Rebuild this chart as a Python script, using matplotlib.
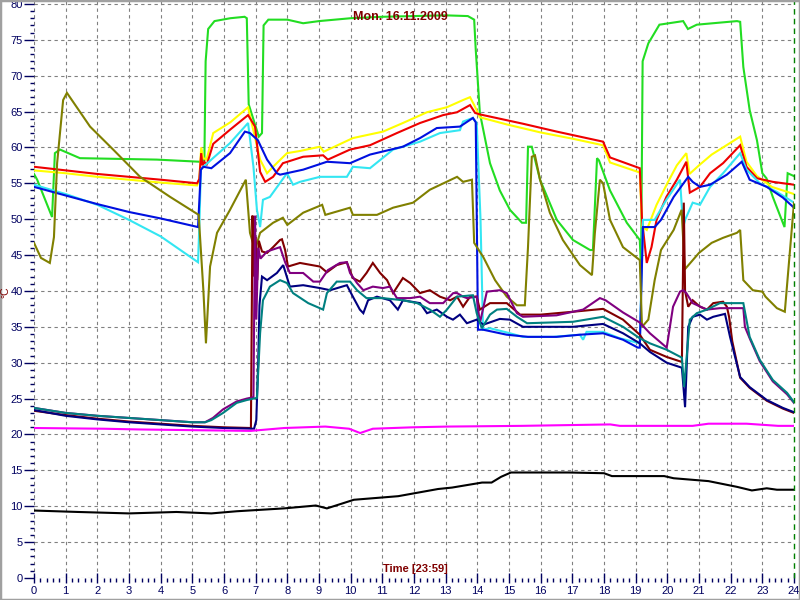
import matplotlib
matplotlib.use("Agg")
import matplotlib.pyplot as plt
from matplotlib.patches import Rectangle
from matplotlib.ticker import MultipleLocator

plt.rcParams["font.family"] = ["Liberation Sans", "DejaVu Sans"]

# time in hours, temperature in °C
green_t = [0, 0.1, 0.57, 0.66, 0.82, 1.45, 3.88, 5.24, 5.38, 5.42, 5.5, 5.7, 6.2, 6.65, 6.72, 6.78,
           7.1, 7.2, 7.25, 7.4, 8.0, 8.5, 9.0, 10.0, 11.0, 12.0, 13.0, 13.7, 13.9, 13.95, 14.08, 14.4,
           14.71, 15.03, 15.41, 15.54, 15.6, 15.72, 15.98, 16.51, 17.02, 17.56, 17.65, 17.78, 17.84,
           18.19, 18.72, 19.13, 19.17, 19.22, 19.4, 19.75, 20.5, 20.65, 20.93, 22.2, 22.3, 22.4, 22.6,
           22.83, 23.0, 23.13, 23.33, 23.7, 23.8, 24.0]
green_v = [56.3, 55.5, 50.3, 59.2, 59.7, 58.5, 58.3, 58.0, 58.2, 72.0, 76.5, 77.6, 78.0, 78.2, 78.0, 66.0,
           61.5, 62.0, 77.0, 77.8, 77.8, 77.3, 77.6, 78.0, 78.2, 78.3, 78.4, 78.3, 77.8, 73.6, 64.8, 57.8,
           54.0, 51.3, 49.5, 49.5, 60.1, 60.1, 55.5, 49.9, 47.1, 45.7, 45.7, 58.5, 58.2,
           54.0, 49.5, 47.1, 43.0, 72.0, 74.5, 77.1, 77.6, 76.5, 77.1, 77.6, 77.5, 71.2, 65.2,
           61.0, 56.4, 55.7, 53.1, 48.9, 56.4, 56.0]

yellow_t = [0, 1, 2, 3, 4, 5.15, 5.22, 5.28, 5.35, 5.45, 5.66, 6.2, 6.76, 6.9, 7.14, 7.36, 7.55, 7.99,
            8.4, 9.03, 9.15, 10.07, 11.02, 11.65, 12.41, 13.04, 13.55, 13.77, 13.9, 14.08, 14.93, 15.98,
            17.02, 17.97, 18.19, 19.13, 19.2, 19.35, 19.66, 20.0, 20.3, 20.6, 20.7, 21.0, 21.4, 22.3,
            22.5, 22.83, 23.3, 24.0]
yellow_v = [56.8, 56.4, 55.9, 55.5, 55.1, 54.7, 55.5, 60.0, 58.5, 58.3, 62.0, 63.5, 65.6, 62.9, 58.3, 56.4,
            57.3, 59.2, 59.5, 60.1, 59.4, 61.3, 62.2, 63.4, 64.9, 65.6, 66.6, 67.0, 65.9, 64.2, 63.2, 62.1,
            61.2, 60.3, 57.9, 56.5, 49.0, 48.5, 52.0, 55.0, 57.5, 59.2, 56.3, 57.5, 59.0, 61.5,
            58.0, 56.0, 54.5, 53.5]

red_t = [0, 1, 2, 3, 4, 5.15, 5.22, 5.28, 5.32, 5.38, 5.45, 5.66, 6.2, 6.76, 6.98, 7.14, 7.3, 7.55,
         7.86, 8.5, 9.13, 9.28, 9.98, 10.61, 11.46, 12.19, 12.92, 13.36, 13.77, 13.93, 14.08, 15.44,
         16.51, 17.97, 18.19, 19.13, 19.2, 19.35, 19.5, 19.66, 19.97, 20.3, 20.6, 20.71, 21.03, 21.35,
         21.76, 22.3, 22.5, 22.83, 23.33, 24.0]
red_v = [57.3, 56.8, 56.3, 55.9, 55.5, 55.0, 55.6, 59.2, 57.5, 58.0, 57.5, 60.5, 62.5, 64.5, 62.9, 56.6,
         55.2, 55.9, 57.8, 58.7, 58.9, 58.3, 59.7, 60.3, 62.0, 63.4, 64.5, 64.9, 65.9, 64.8, 64.6, 63.3,
         62.2, 60.8, 58.6, 57.1, 50.0, 43.9, 46.1, 49.9, 53.1, 55.5, 58.0, 53.7, 54.5, 56.4,
         57.8, 60.3, 57.3, 55.7, 55.2, 54.8]

cyan_t = [0, 1, 2, 3, 4, 5.18, 5.22, 5.27, 5.35, 5.6, 6.19, 6.76, 6.93, 7.04, 7.14, 7.23, 7.45, 7.99,
          8.18, 8.4, 9.03, 9.88, 10.07, 10.61, 11.34, 12.19, 12.82, 13.45, 13.55, 13.86, 13.98, 14.1,
          14.18, 14.4, 15.03, 15.44, 16.4, 17.24, 17.34, 17.45, 17.97, 18.5, 19.13, 19.23, 19.35, 19.6,
          19.97, 20.4, 20.5, 20.57, 20.8, 21.03, 21.35, 21.76, 22.3, 22.5, 22.92, 23.46, 24.0]
cyan_v = [54.8, 53.5, 52.0, 49.9, 47.6, 44.0, 48.9, 56.9, 57.3, 58.3, 60.6, 63.4, 57.3, 51.3, 48.9, 52.7,
          53.1, 56.4, 54.8, 55.2, 55.9, 55.9, 57.3, 57.1, 59.7, 60.8, 62.0, 62.4, 63.6, 64.1, 63.4, 50.0,
          34.6, 34.8, 34.1, 33.6, 33.6, 33.9, 33.2, 34.3, 34.3, 33.4, 32.7, 49.9, 49.9, 49.9,
          52.7, 55.5, 48.9, 50.0, 52.3, 52.0, 54.5, 56.4, 59.2, 56.9, 55.0, 53.8, 52.3]

blue_t = [0, 1, 2, 3, 4, 5.18, 5.27, 5.35, 5.6, 6.19, 6.66, 6.82, 7.07, 7.36, 7.67, 7.77, 8.5, 9.25,
          9.98, 10.61, 11.65, 12.19, 12.72, 13.45, 13.86, 13.95, 14.02, 14.18, 14.93, 15.6, 16.5, 17.24,
          17.97, 18.6, 19.07, 19.13, 19.23, 19.6, 19.8, 20.2, 20.66, 20.8, 21.03, 21.35, 21.88, 22.35,
          22.6, 23.14, 23.65, 24.0]
blue_v = [54.5, 53.3, 52.1, 51.0, 50.1, 48.9, 56.9, 57.3, 57.1, 59.2, 62.2, 62.0, 61.0, 58.3, 56.4, 56.2,
          56.9, 58.0, 57.8, 59.0, 60.1, 61.3, 62.7, 62.9, 64.1, 63.5, 34.6, 34.6, 33.9, 33.6, 33.6, 33.9,
          34.1, 33.2, 32.1, 32.1, 48.9, 48.9, 49.9, 53.1, 55.9, 55.2, 54.5, 54.8, 56.2, 58.0,
          55.5, 54.5, 53.0, 51.6]

olive_t = [0, 0.22, 0.5, 0.63, 0.73, 0.92, 1.04, 1.77, 2.5, 3.35, 4.3, 5.2, 5.35, 5.43, 5.56, 5.78,
           6.19, 6.69, 6.82, 6.98, 7.14, 7.55, 7.86, 8.0, 8.5, 9.1, 9.2, 9.98, 10.07, 10.83, 11.34,
           11.97, 12.5, 13.36, 13.55, 13.83, 13.9, 14.19, 14.56, 14.93, 15.25, 15.5, 15.6, 15.72,
           15.82, 15.98, 16.29, 16.7, 17.24, 17.62, 17.71, 17.87, 17.97, 18.19, 18.6, 19.13, 19.2,
           19.4, 19.6, 19.8, 20.2, 20.45, 20.55, 21.0, 21.4, 21.76, 22.2, 22.3, 22.4, 22.7, 23.0,
           23.1, 23.46, 23.71, 24.0]
olive_v = [46.7, 44.6, 43.9, 47.5, 57.8, 66.6, 67.6, 62.9, 59.7, 55.9, 53.1, 50.6, 40.0, 32.7, 43.4, 48.1,
           51.3, 55.5, 48.1, 45.7, 48.1, 49.5, 50.2, 49.2, 50.9, 52.0, 50.6, 51.6, 50.6, 50.6, 51.6,
           52.3, 54.1, 55.9, 55.2, 55.5, 46.7, 44.7, 41.5, 39.2, 38.0, 38.0, 46.1, 58.7,
           58.9, 55.5, 50.9, 47.1, 43.6, 42.2, 48.0, 55.5, 55.0, 49.9, 46.1, 44.3, 35.0,
           36.0, 41.5, 45.7, 48.5, 51.3, 43.0, 45.3, 46.7, 47.4, 48.1, 48.5, 41.5, 40.1, 39.9,
           39.2, 37.6, 37.1, 52.3]

maroon_t = [0, 1, 2, 3, 4, 5, 6, 6.85, 6.9, 6.95, 7.0, 7.05, 7.1, 7.2, 7.36, 7.55, 7.77, 7.83, 7.93,
            8.02, 8.4, 9.03, 9.25, 9.56, 9.88, 10.07, 10.29, 10.5, 10.7, 10.93, 11.15, 11.34, 11.65,
            11.88, 12.19, 12.5, 12.82, 13.14, 13.36, 13.55, 13.77, 13.98, 14.08, 14.4, 14.93, 15.35,
            16.0, 17.02, 17.97, 18.6, 19.13, 19.45, 19.98, 20.46, 20.52, 20.56, 20.66, 20.8, 21.03,
            21.25, 21.45, 21.76, 21.88, 21.95, 22.05, 22.3, 22.6, 23.14, 23.65, 24.0]
maroon_v = [23.3, 22.7, 22.2, 21.8, 21.5, 21.2, 21.0, 20.9, 50.5, 42.0, 47.5, 41.5, 47.0, 45.5, 45.3, 46.1,
            47.1, 47.2, 45.7, 43.4, 43.9, 43.4, 42.6, 43.6, 44.0, 41.8, 41.3, 42.5, 43.9, 42.5, 41.5,
            39.7, 41.8, 41.1, 39.7, 40.1, 39.2, 38.7, 39.2, 37.8, 39.2, 39.2, 37.4, 38.3, 38.3, 36.7,
            36.7, 37.1, 37.5, 36.0, 33.9, 31.8, 30.8, 30.1, 52.3, 40.0, 37.8, 38.7, 37.8,
            37.4, 38.3, 38.5, 37.8, 36.4, 33.0, 27.9, 26.5, 24.7, 23.6, 23.0]

purple_t = [0, 1, 2, 3, 4, 5, 5.4, 5.65, 5.97, 6.4, 6.72, 6.93, 6.98, 7.02, 7.08, 7.15, 7.36, 7.77,
            7.93, 8.08, 8.5, 8.82, 9.03, 9.28, 9.66, 9.88, 9.98, 10.2, 10.4, 10.7, 11.02, 11.24, 11.46,
            11.88, 12.19, 12.5, 12.92, 13.24, 13.36, 13.55, 13.67, 13.98, 14.08, 14.3, 14.71, 14.93,
            15.25, 15.44, 16.5, 17.02, 17.34, 17.87, 18.05, 18.6, 19.13, 19.45, 19.98, 20.18, 20.4,
            20.5, 20.6, 20.8, 21.25, 21.66, 22.4, 22.45, 22.6, 22.92, 23.33, 23.78, 24.0]
purple_v = [23.7, 23.0, 22.6, 22.3, 22.0, 21.7, 21.7, 22.3, 23.5, 24.6, 25.0, 25.2, 50.5, 36.0, 46.0, 44.5,
            45.5, 46.1, 44.0, 42.5, 42.5, 41.3, 41.3, 42.9, 43.9, 44.0, 42.5, 41.1, 40.1, 40.6, 40.4,
            40.6, 39.0, 39.0, 39.2, 38.3, 38.3, 39.7, 39.7, 39.2, 39.0, 39.2, 35.5, 39.9, 40.1, 39.7,
            36.9, 36.4, 36.6, 37.1, 37.4, 39.0, 38.7, 37.0, 35.6, 34.1, 32.1, 37.8, 39.9,
            40.1, 39.7, 38.3, 37.4, 37.6, 37.6, 35.0, 33.4, 30.2, 27.4, 25.6, 24.4]

navy_t = [0, 1, 2, 3, 4, 5, 6, 6.95, 7.02, 7.08, 7.12, 7.2, 7.36, 7.67, 7.87, 8.08, 8.5, 9.03, 9.35,
          9.88, 10.07, 10.29, 10.4, 10.55, 10.83, 11.24, 11.49, 11.65, 12.19, 12.41, 12.72, 13.04,
          13.23, 13.45, 13.67, 13.98, 14.19, 14.71, 15.03, 15.44, 17.02, 17.97, 18.6, 19.13, 19.45,
          19.98, 20.46, 20.56, 20.66, 20.8, 21.03, 21.25, 21.45, 21.82, 21.98, 22.3, 22.6, 23.14,
          23.65, 24.0]
navy_v = [23.4, 22.6, 22.1, 21.7, 21.4, 21.1, 20.9, 20.8, 22.0, 30.0, 38.0, 42.0, 41.5, 42.5, 43.6, 40.6,
          40.8, 40.4, 40.1, 40.8, 39.2, 37.4, 36.9, 38.7, 39.2, 38.7, 37.4, 38.7, 38.3, 36.9, 37.4, 36.4,
          36.0, 36.7, 35.5, 36.0, 35.3, 36.1, 36.0, 35.0, 35.0, 35.4, 34.1, 32.7, 31.5,
          30.0, 29.3, 23.8, 35.0, 36.4, 36.7, 36.0, 36.4, 36.8, 33.6, 28.0, 26.6, 24.8,
          23.7, 23.1]

teal_t = [0, 1, 2, 3, 4, 5, 5.4, 5.6, 5.97, 6.4, 6.72, 7.04, 7.14, 7.23, 7.45, 7.77, 7.99, 8.18, 8.66,
          9.13, 9.25, 9.56, 9.98, 10.2, 10.5, 11.02, 11.65, 12.1, 12.5, 12.82, 13.04, 13.36, 13.86,
          13.98, 14.14, 14.4, 14.62, 14.93, 15.25, 15.57, 17.02, 17.97, 18.6, 19.13, 19.45, 19.98,
          20.46, 20.53, 20.71, 20.93, 21.25, 21.66, 22.4, 22.6, 22.92, 23.33, 23.78, 24.0]
teal_v = [23.7, 23.0, 22.6, 22.3, 22.0, 21.7, 21.7, 22.0, 23.0, 24.4, 24.8, 25.1, 34.1, 38.7, 40.6, 41.5,
          41.1, 39.7, 38.3, 37.4, 39.7, 41.3, 41.3, 40.1, 39.0, 39.0, 38.7, 38.3, 37.4, 36.4, 37.4,
          39.2, 39.4, 36.9, 34.8, 36.7, 37.4, 37.5, 36.4, 35.5, 35.7, 36.4, 35.0, 33.4, 32.7, 31.8,
          30.7, 26.6, 36.0, 36.9, 37.4, 38.3, 38.3, 33.6, 30.4, 27.6, 25.8, 24.5]

magenta_t = [0, 2.2, 3.3, 5, 6.85, 7.9, 9.2, 9.95, 10.3, 10.7, 11.97, 13.05, 15.4, 18.2, 18.5, 20.8,
             21.3, 22.5, 23.5, 24]
magenta_v = [20.9, 20.8, 20.7, 20.6, 20.5, 20.9, 21.1, 20.8, 20.2, 20.8, 21.0, 21.1, 21.2, 21.4, 21.2,
             21.2, 21.5, 21.5, 21.2, 21.2]

black_t = [0, 1.4, 3.0, 4.5, 5.6, 6.4, 7.9, 8.9, 9.25, 10.1, 11.5, 12.76, 13.2, 14.15, 14.45, 14.75,
           15.06, 16.9, 18.0, 18.25, 19.9, 20.2, 21.3, 22.2, 22.67, 23.14, 23.46, 24]
black_v = [9.4, 9.2, 9.0, 9.2, 9.0, 9.3, 9.7, 10.1, 9.7, 10.9, 11.4, 12.4, 12.6, 13.3, 13.3, 14.1,
           14.7, 14.7, 14.6, 14.2, 14.2, 13.9, 13.5, 12.7, 12.2, 12.5, 12.3, 12.3]

series = [
    (green_t, green_v, "#22dd22"),
    (yellow_t, yellow_v, "#ffff00"),
    (red_t, red_v, "#ee0000"),
    (cyan_t, cyan_v, "#33e6f2"),
    (blue_t, blue_v, "#0010e0"),
    (olive_t, olive_v, "#808000"),
    (maroon_t, maroon_v, "#800000"),
    (purple_t, purple_v, "#800080"),
    (navy_t, navy_v, "#000080"),
    (teal_t, teal_v, "#008080"),
    (magenta_t, magenta_v, "#ff00ff"),
    (black_t, black_v, "#000000"),
]

fig = plt.figure(figsize=(8, 6), dpi=100)
ax = fig.add_axes([34 / 800, 22 / 600, 760 / 800, 577 / 600])

for t, v, c in series:
    ax.plot(t, v, color=c, lw=1.5, solid_joinstyle="miter")

# current time marker
ax.axvline(24, color="#008000", lw=1, ls=(0, (4, 3)), clip_on=False)

ax.set_xlim(0, 24)
ax.set_ylim(0, 80.4)
ax.xaxis.set_major_locator(MultipleLocator(1))
ax.xaxis.set_minor_locator(MultipleLocator(0.2))
ax.yaxis.set_minor_locator(MultipleLocator(1))
ax.set_yticks(range(0, 81, 5))

for s in ax.spines.values():
    s.set_visible(False)

ax.grid(True, which="major", color="#808080", lw=0.8, ls=(0, (3, 3)))
ax.set_axisbelow(True)

ax.tick_params(axis="both", which="major", colors="#000060", labelsize=8, width=1)
ax.tick_params(axis="y", which="major", direction="out", length=7, pad=1)
ax.tick_params(axis="y", which="minor", direction="out", length=3, width=1, color="#000060")
ax.tick_params(axis="x", which="major", direction="inout", length=7, pad=2)
ax.tick_params(axis="x", which="minor", direction="out", length=3, width=1, color="#000060")

fig.text(0.5, 1 - 17 / 600, "Mon. 16.11.2009", ha="center", va="center",
         color="#800000", fontsize=9, fontweight="bold")
fig.text(415 / 800, 1 - 569 / 600, "Time [23:59]", ha="center", va="center",
         color="#800000", fontsize=8, fontweight="bold")
fig.text(5 / 800, 1 - 292 / 600, "°C", ha="center", va="center", rotation=90,
         color="#800000", fontsize=7.5)

fig.add_artist(Rectangle((0, 0), 1, 1, transform=fig.transFigure, fill=False,
                         edgecolor="#a0a0a0", lw=2.5))

fig.savefig("out.png", dpi=100)
